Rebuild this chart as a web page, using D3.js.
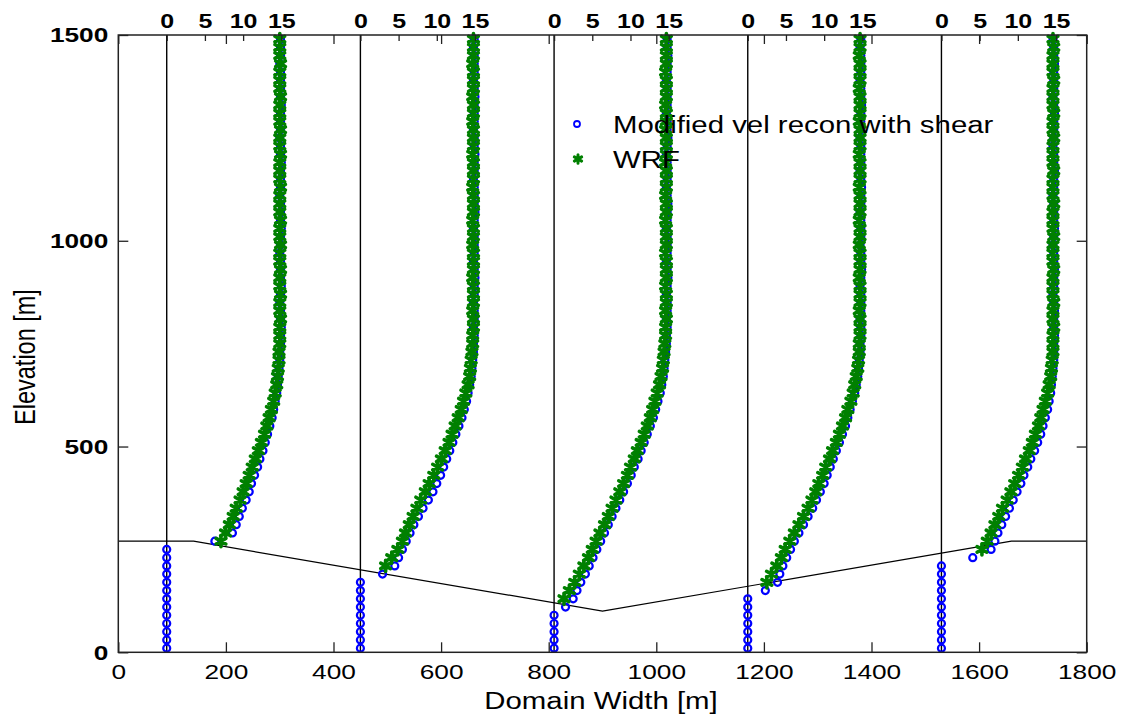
<!DOCTYPE html>
<html>
<head>
<meta charset="utf-8">
<script src="https://cdn.jsdelivr.net/npm/d3@7"></script>
<style>
  body { margin: 0; background: #fff; }
  svg { display: block; font-family: "Liberation Sans", Arial, sans-serif; }
</style>
</head>
<body>
<div id="chart"></div>
<script>
const _ = null;

// elevation of each sample [m]
const elevations = [
  10, 30, 50, 70, 90, 110, 130, 150, 170, 190,
  210, 230, 250, 270, 290, 310, 330, 350, 370, 390,
  410, 430, 450, 470, 490, 510, 530, 550, 570, 590,
  610, 630, 650, 670, 690, 710, 730, 750, 770, 790,
  810, 830, 850, 870, 890, 910, 930, 950, 970, 990,
  1010, 1030, 1050, 1070, 1090, 1110, 1130, 1150, 1170, 1190,
  1210, 1230, 1250, 1270, 1290, 1310, 1330, 1350, 1370, 1390,
  1410, 1430, 1450, 1470, 1490,
];

// profile positions along the domain [m]
const profileX = [90, 450, 810, 1170, 1530];

// terrain outline
const terrainX = [0, 140, 900, 1660, 1800];
const terrainZ = [270, 270, 100, 270, 270];

// velocity [m/s], modified reconstruction with shear
const reconVel90 = [
  0, 0, 0, 0, 0, 0, 0, 0, 0, 0,
  0, 0, 0, 6.3, 8.6, 9.1, 9.5, 9.9, 10.4, 10.8,
  11.1, 11.5, 11.9, 12.2, 12.6, 12.9, 13.2, 13.5, 13.8, 14.0,
  14.2, 14.4, 14.5, 14.6, 14.7, 14.8, 14.8, 14.9, 14.9, 15.0,
  14.9, 14.9, 14.8, 14.9, 15.0, 14.9, 14.9, 14.9, 14.8, 14.9,
  14.9, 15.0, 14.9, 14.9, 14.9, 14.8, 14.9, 14.9, 14.9, 15.0,
  14.9, 14.9, 14.8, 14.9, 14.9, 14.9, 15.0, 14.9, 14.9, 14.9,
  14.9, 14.8, 14.9, 14.9, 14.9,
];
const reconVel450 = [
  0, 0, 0, 0, 0, 0, 0, 0, 0, 2.9,
  4.5, 5.0, 5.5, 6.0, 6.5, 7.0, 7.6, 8.2, 8.9, 9.5,
  10.0, 10.5, 10.9, 11.3, 11.7, 12.1, 12.5, 12.9, 13.3, 13.6,
  13.9, 14.1, 14.3, 14.5, 14.6, 14.7, 14.8, 14.8, 14.9, 14.8,
  14.9, 14.9, 14.8, 14.9, 14.9, 15.0, 14.9, 14.8, 14.9, 14.9,
  14.9, 14.8, 14.9, 15.0, 14.9, 14.9, 14.9, 14.8, 14.9, 14.9,
  15.0, 14.9, 14.9, 14.8, 14.9, 14.9, 14.9, 15.0, 14.9, 14.8,
  14.9, 14.9, 14.9, 14.8, 14.9,
];
const reconVel810 = [
  0, 0, 0, 0, 0, 1.5, 2.5, 3.0, 3.5, 4.1,
  4.6, 5.1, 5.6, 6.1, 6.6, 7.1, 7.6, 8.1, 8.6, 9.1,
  9.6, 10.1, 10.5, 11.0, 11.4, 11.8, 12.2, 12.6, 13.0, 13.3,
  13.6, 13.9, 14.1, 14.3, 14.4, 14.5, 14.6, 14.7, 14.7, 14.8,
  14.7, 14.8, 14.8, 14.7, 14.8, 14.9, 14.8, 14.7, 14.8, 14.8,
  14.8, 14.7, 14.8, 14.8, 14.9, 14.8, 14.7, 14.8, 14.8, 14.8,
  14.7, 14.8, 14.9, 14.8, 14.8, 14.7, 14.8, 14.8, 14.8, 14.7,
  14.8, 14.8, 14.9, 14.8, 14.8,
];
const reconVel1170 = [
  0, 0, 0, 0, 0, 0, 0, 2.3, 3.9, 4.2,
  4.6, 5.1, 5.6, 6.1, 6.7, 7.3, 7.9, 8.5, 9.0, 9.5,
  10.0, 10.4, 10.8, 11.2, 11.6, 12.0, 12.4, 12.8, 13.1, 13.4,
  13.7, 14.0, 14.2, 14.4, 14.5, 14.6, 14.7, 14.7, 14.8, 14.8,
  14.7, 14.8, 14.8, 14.8, 14.7, 14.8, 14.9, 14.8, 14.8, 14.7,
  14.8, 14.8, 14.8, 14.7, 14.8, 14.8, 14.9, 14.8, 14.7, 14.8,
  14.8, 14.8, 14.7, 14.8, 14.8, 14.8, 14.9, 14.8, 14.8, 14.7,
  14.8, 14.8, 14.8, 14.7, 14.8,
];
const reconVel1530 = [
  0, 0, 0, 0, 0, 0, 0, 0, 0, 0,
  0, 4.1, 6.5, 7.0, 7.4, 7.9, 8.4, 8.9, 9.4, 9.9,
  10.4, 10.8, 11.3, 11.7, 12.2, 12.6, 13.0, 13.3, 13.6, 13.9,
  14.1, 14.3, 14.4, 14.5, 14.6, 14.7, 14.7, 14.7, 14.8, 14.7,
  14.7, 14.8, 14.7, 14.6, 14.7, 14.7, 14.8, 14.7, 14.7, 14.6,
  14.7, 14.8, 14.7, 14.7, 14.7, 14.6, 14.7, 14.7, 14.8, 14.7,
  14.7, 14.6, 14.7, 14.7, 14.7, 14.8, 14.7, 14.6, 14.7, 14.7,
  14.7, 14.8, 14.7, 14.7, 14.6,
];

// velocity [m/s], WRF
const wrfVel90 = [
  _, _, _, _, _, _, _, _, _, _,
  _, _, _, 7.1, 7.7, 8.2, 8.7, 9.1, 9.6, 10.0,
  10.4, 10.8, 11.2, 11.6, 12.0, 12.4, 12.8, 13.1, 13.4, 13.7,
  14.0, 14.2, 14.4, 14.5, 14.6, 14.7, 14.7, 14.8, 14.8, 14.8,
  14.9, 14.8, 14.8, 14.9, 14.8, 14.8, 14.9, 14.8, 14.8, 14.9,
  14.8, 14.8, 14.9, 14.8, 14.8, 14.8, 14.9, 14.8, 14.8, 14.8,
  14.9, 14.8, 14.8, 14.9, 14.8, 14.8, 14.8, 14.9, 14.8, 14.8,
  14.8, 14.9, 14.8, 14.8, 14.8,
];
const wrfVel450 = [
  _, _, _, _, _, _, _, _, _, _,
  3.3, 4.1, 4.9, 5.5, 5.9, 6.4, 6.9, 7.4, 7.9, 8.5,
  9.0, 9.6, 10.1, 10.6, 11.1, 11.6, 12.0, 12.4, 12.8, 13.2,
  13.5, 13.8, 14.1, 14.3, 14.4, 14.5, 14.6, 14.7, 14.7, 14.8,
  14.8, 14.7, 14.8, 14.8, 14.8, 14.7, 14.8, 14.8, 14.8, 14.7,
  14.8, 14.8, 14.7, 14.8, 14.8, 14.8, 14.7, 14.8, 14.8, 14.8,
  14.7, 14.8, 14.8, 14.8, 14.7, 14.8, 14.8, 14.7, 14.8, 14.8,
  14.8, 14.7, 14.8, 14.8, 14.8,
];
const wrfVel810 = [
  _, _, _, _, _, _, 1.3, 2.0, 2.7, 3.3,
  3.9, 4.5, 5.0, 5.5, 6.0, 6.6, 7.1, 7.6, 8.1, 8.6,
  9.1, 9.6, 10.0, 10.5, 10.9, 11.4, 11.8, 12.2, 12.6, 12.9,
  13.2, 13.5, 13.8, 14.0, 14.2, 14.3, 14.4, 14.5, 14.6, 14.6,
  14.7, 14.6, 14.7, 14.7, 14.6, 14.7, 14.7, 14.7, 14.6, 14.7,
  14.7, 14.7, 14.6, 14.7, 14.7, 14.6, 14.7, 14.7, 14.7, 14.6,
  14.7, 14.7, 14.7, 14.6, 14.7, 14.7, 14.6, 14.7, 14.7, 14.7,
  14.6, 14.7, 14.7, 14.7, 14.7,
];
const wrfVel1170 = [
  _, _, _, _, _, _, _, _, 2.5, 3.1,
  3.8, 4.4, 4.9, 5.5, 6.1, 6.7, 7.3, 7.9, 8.4, 8.9,
  9.3, 9.8, 10.2, 10.7, 11.1, 11.6, 12.0, 12.4, 12.8, 13.1,
  13.5, 13.8, 14.0, 14.2, 14.4, 14.5, 14.6, 14.6, 14.7, 14.7,
  14.7, 14.6, 14.7, 14.7, 14.7, 14.6, 14.7, 14.7, 14.7, 14.6,
  14.7, 14.7, 14.6, 14.7, 14.7, 14.7, 14.6, 14.7, 14.7, 14.7,
  14.6, 14.7, 14.7, 14.7, 14.6, 14.7, 14.7, 14.7, 14.6, 14.7,
  14.7, 14.7, 14.6, 14.7, 14.7,
];
const wrfVel1530 = [
  _, _, _, _, _, _, _, _, _, _,
  _, _, 5.3, 6.0, 6.5, 7.0, 7.5, 8.0, 8.6, 9.1,
  9.6, 10.1, 10.6, 11.0, 11.5, 11.9, 12.3, 12.7, 13.0, 13.3,
  13.6, 13.9, 14.1, 14.3, 14.4, 14.5, 14.6, 14.6, 14.6, 14.7,
  14.6, 14.6, 14.7, 14.6, 14.6, 14.6, 14.7, 14.6, 14.6, 14.6,
  14.7, 14.6, 14.6, 14.6, 14.7, 14.6, 14.6, 14.6, 14.7, 14.6,
  14.6, 14.6, 14.7, 14.6, 14.6, 14.7, 14.6, 14.6, 14.6, 14.7,
  14.6, 14.6, 14.6, 14.7, 14.6,
];

const reconSeries = [reconVel90, reconVel450, reconVel810, reconVel1170, reconVel1530];
const wrfSeries = [wrfVel90, wrfVel450, wrfVel810, wrfVel1170, wrfVel1530];

const xTicks = [0, 200, 400, 600, 800, 1000, 1200, 1400, 1600, 1800];
const yTicks = [0, 500, 1000, 1500];
const velTicks = [0, 5, 10, 15];
const legendLabels = ["Modified vel recon with shear", "WRF"];

class ProfileChart {
  constructor({ el }) {
    this.el = el;
    this.init();
  }

  init() {
    this.width = 1123;
    this.height = 719;
    this.margin = { top: 35, right: 36.3, bottom: 66.7, left: 118.3 };
    this.stretch = 1.25; // text in the source is drawn wider than normal
    this.velToMetres = 14.2; // m of domain per m/s of wind
    this.blue = "#0000ff";
    this.green = "#008000";
    this.starSize = 88;

    this.x = d3
      .scaleLinear()
      .domain([0, 1800])
      .range([this.margin.left, this.width - this.margin.right]);
    this.y = d3
      .scaleLinear()
      .domain([0, 1500])
      .range([this.height - this.margin.bottom, this.margin.top]);

    this.svg = d3
      .select(this.el)
      .append("svg")
      .attr("width", this.width)
      .attr("height", this.height)
      .attr("viewBox", [0, 0, this.width, this.height]);

    this.svg
      .append("rect")
      .attr("width", this.width)
      .attr("height", this.height)
      .attr("fill", "#fff");

    this.points = profileX.map((x0, p) => ({
      x0,
      recon: elevations
        .map((z, i) => ({ z, v: reconSeries[p][i] }))
        .filter((d) => d.v !== null),
      wrf: elevations
        .map((z, i) => ({ z, v: wrfSeries[p][i] }))
        .filter((d) => d.v !== null),
    }));

    this.render();
  }

  render() {
    this.renderGuides();
    this.renderMarkers();
    this.renderAxes();
    this.renderLegend();
    this.renderTitles();
  }

  px(x0, v) {
    return this.x(x0 + v * this.velToMetres);
  }

  renderGuides() {
    const g = this.svg.append("g").attr("class", "guides");
    g.selectAll(".profile-line")
      .data(profileX)
      .join("line")
      .attr("class", "profile-line")
      .attr("x1", (d) => this.x(d))
      .attr("x2", (d) => this.x(d))
      .attr("y1", this.y(0))
      .attr("y2", this.y(1500))
      .attr("stroke", "#000")
      .attr("stroke-width", 1.4);

    const line = d3
      .line()
      .x((d) => this.x(d[0]))
      .y((d) => this.y(d[1]));
    g.append("path")
      .attr("d", line(d3.zip(terrainX, terrainZ)))
      .attr("fill", "none")
      .attr("stroke", "#000")
      .attr("stroke-width", 1.2);
  }

  renderMarkers() {
    const star = d3.symbol(d3.symbolAsterisk || d3.symbolCross, this.starSize);
    const groups = this.svg
      .append("g")
      .attr("class", "profiles")
      .selectAll(".profile")
      .data(this.points)
      .join("g")
      .attr("class", "profile");

    groups
      .selectAll(".recon")
      .data((p) => p.recon.map((d) => ({ ...d, x0: p.x0 })))
      .join("circle")
      .attr("class", "recon")
      .attr("cx", (d) => this.px(d.x0, d.v))
      .attr("cy", (d) => this.y(d.z))
      .attr("r", 3.5)
      .attr("fill", "none")
      .attr("stroke", this.blue)
      .attr("stroke-width", 2.2);

    groups
      .selectAll(".wrf")
      .data((p) => p.wrf.map((d) => ({ ...d, x0: p.x0 })))
      .join("path")
      .attr("class", "wrf")
      .attr("d", star)
      .attr(
        "transform",
        (d) => `translate(${this.px(d.x0, d.v)},${this.y(d.z)})`
      )
      .attr("fill", this.green)
      .attr("stroke", this.green)
      .attr("stroke-width", 3.6)
      .attr("stroke-linecap", "round");
  }

  styleTicks(g, weight) {
    g.select(".domain").remove();
    g.selectAll(".tick line").attr("stroke", "#222").attr("stroke-width", 1.3);
    g.selectAll(".tick text")
      .attr("fill", "#000")
      .attr("font-size", 21)
      .attr("font-weight", weight)
      .attr("font-family", '"Liberation Sans", Arial, sans-serif');
  }

  renderAxes() {
    const s = this.stretch;
    const top = this.margin.top;
    const bottom = this.height - this.margin.bottom;
    const left = this.margin.left;
    const right = this.width - this.margin.right;
    const plain = d3.format("d");

    this.svg
      .append("g")
      .attr("transform", `translate(0,${bottom})`)
      .call(
        d3
          .axisBottom(this.x)
          .tickValues(xTicks)
          .tickFormat(plain)
          .tickSize(-10)
          .tickPadding(12)
      )
      .call((g) => this.styleTicks(g, "normal"))
      .call((g) => g.selectAll(".tick text").attr("transform", `scale(${s},1)`));

    this.svg
      .append("g")
      .attr("transform", `translate(0,${top})`)
      .call(d3.axisTop(this.x).tickValues(xTicks).tickSize(-9).tickFormat(""))
      .call((g) => this.styleTicks(g, "normal"));

    this.svg
      .append("g")
      .attr("transform", `translate(${left},0)`)
      .call(
        d3
          .axisLeft(this.y)
          .tickValues(yTicks)
          .tickFormat(plain)
          .tickSize(-10)
          .tickPadding(10)
      )
      .call((g) => this.styleTicks(g, "bold"))
      .call((g) =>
        g
          .selectAll(".tick text")
          .attr("x", -10 / s)
          .attr("transform", `scale(${s},1)`)
      );

    this.svg
      .append("g")
      .attr("transform", `translate(${right},0)`)
      .call(d3.axisRight(this.y).tickValues(yTicks).tickSize(-10).tickFormat(""))
      .call((g) => this.styleTicks(g, "normal"));

    // velocity scale above each profile
    profileX.forEach((x0) => {
      const v = d3
        .scaleLinear()
        .domain([0, 15])
        .range([this.px(x0, 0), this.px(x0, 15)]);
      this.svg
        .append("g")
        .attr("class", "axis axis--vel")
        .attr("transform", `translate(0,${top})`)
        .call(
          d3
            .axisTop(v)
            .tickValues(velTicks)
            .tickFormat(plain)
            .tickSize(-6)
            .tickPadding(7)
        )
        .call((g) => this.styleTicks(g, "bold"))
        .call((g) =>
          g
            .selectAll(".tick text")
            .attr("font-size", 20)
            .attr("transform", `scale(${s},1)`)
        );
    });

    this.svg
      .append("rect")
      .attr("x", left)
      .attr("y", top)
      .attr("width", right - left)
      .attr("height", bottom - top)
      .attr("fill", "none")
      .attr("stroke", "#222")
      .attr("stroke-width", 1.5);
  }

  renderLegend() {
    const s = this.stretch;
    const g = this.svg.append("g").attr("class", "legend");
    const rows = [
      { label: legendLabels[0], y: 124 },
      { label: legendLabels[1], y: 159 },
    ];

    g.append("circle")
      .attr("cx", 577)
      .attr("cy", rows[0].y)
      .attr("r", 3)
      .attr("fill", "none")
      .attr("stroke", this.blue)
      .attr("stroke-width", 1.8);

    g.append("path")
      .attr("d", d3.symbol(d3.symbolAsterisk || d3.symbolCross, 50)())
      .attr("transform", `translate(578,${rows[1].y})`)
      .attr("fill", this.green)
      .attr("stroke", this.green)
      .attr("stroke-width", 3)
      .attr("stroke-linecap", "round");

    g.selectAll("text")
      .data(rows)
      .join("text")
      .attr("transform", (d) => `translate(613,${d.y + 8.5}) scale(${s},1)`)
      .attr("font-size", 23.5)
      .attr("fill", "#000")
      .text((d) => d.label);
  }

  renderTitles() {
    const s = this.stretch;
    this.svg
      .append("text")
      .attr("transform", `translate(601,709) scale(${s},1)`)
      .attr("text-anchor", "middle")
      .attr("font-size", 23.5)
      .attr("fill", "#000")
      .text("Domain Width [m]");

    this.svg
      .append("text")
      .attr("transform", `translate(35,357) scale(${s},1) rotate(-90)`)
      .attr("text-anchor", "middle")
      .attr("font-size", 23.5)
      .attr("fill", "#000")
      .text("Elevation [m]");
  }
}

new ProfileChart({ el: document.getElementById("chart") });
</script>
</body>
</html>
